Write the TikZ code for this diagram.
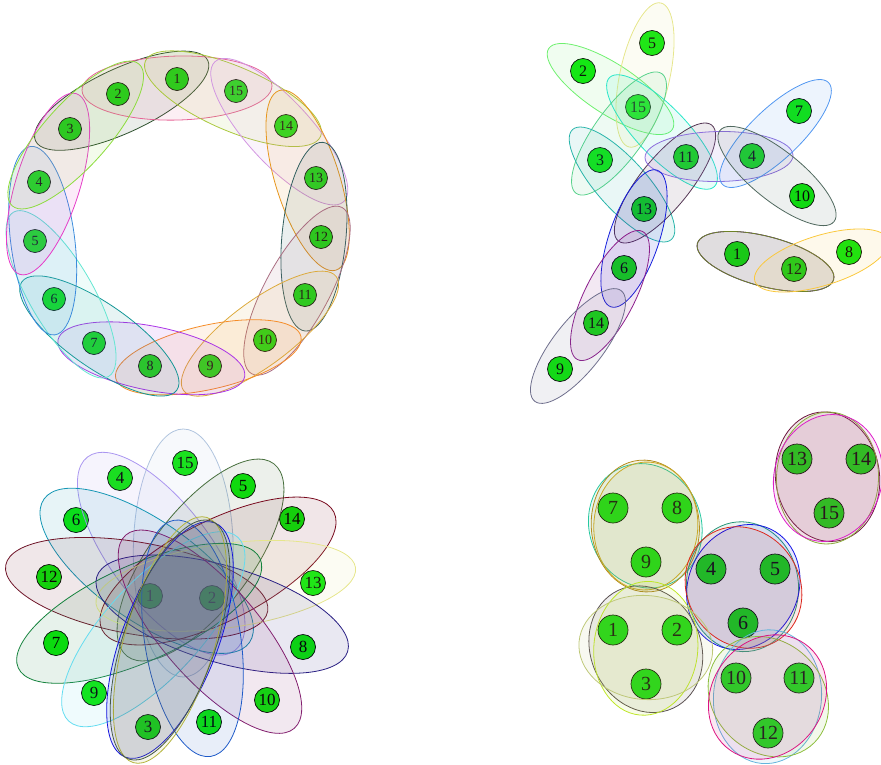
\documentclass[tikz,border=0pt]{standalone}
\usepackage{fontspec}
\setmainfont{Liberation Serif}
\usetikzlibrary{calc}
% node fill
\definecolor{nodegreen}{RGB}{10,230,10}
% ring colours
\definecolor{rDkgreen}{RGB}{45,80,45}
\definecolor{rPink}{RGB}{230,100,150}
\definecolor{rYgreen}{RGB}{170,200,60}
\definecolor{rLilac}{RGB}{210,150,225}
\definecolor{rOrangeB}{RGB}{230,150,30}
\definecolor{rSlate}{RGB}{50,95,95}
\definecolor{rMauve}{RGB}{170,110,130}
\definecolor{rGold}{RGB}{220,170,60}
\definecolor{rOrange}{RGB}{245,140,40}
\definecolor{rPurple}{RGB}{170,50,230}
\definecolor{rTeal}{RGB}{20,150,150}
\definecolor{rAqua}{RGB}{100,230,210}
\definecolor{rBlue}{RGB}{60,140,220}
\definecolor{rMagenta}{RGB}{230,60,200}
\definecolor{rLgreen}{RGB}{140,220,60}
% top-right colours
\definecolor{tLgreen}{RGB}{110,240,110}
\definecolor{tPyellow}{RGB}{230,230,140}
\definecolor{tTurq}{RGB}{40,230,200}
\definecolor{tMgreen}{RGB}{90,210,140}
\definecolor{tTeal}{RGB}{40,180,170}
\definecolor{tPlum}{RGB}{85,55,85}
\definecolor{tPurple}{RGB}{140,110,220}
\definecolor{tBlue}{RGB}{80,150,240}
\definecolor{tGrayg}{RGB}{80,105,95}
\definecolor{tBlueD}{RGB}{20,30,220}
\definecolor{tPurpleD}{RGB}{140,30,140}
\definecolor{tGray}{RGB}{110,110,140}
\definecolor{tDpurple}{RGB}{80,20,140}
\definecolor{tOlive}{RGB}{110,130,40}
\definecolor{tGold}{RGB}{250,200,60}
% bottom-left colours
\definecolor{fSteel}{RGB}{176,196,222}
\definecolor{fLav}{RGB}{170,150,240}
\definecolor{fTealb}{RGB}{20,150,180}
\definecolor{fDolive}{RGB}{70,110,60}
\definecolor{fDred}{RGB}{120,10,30}
\definecolor{fMaroon}{RGB}{110,20,40}
\definecolor{fPyellow}{RGB}{230,230,140}
\definecolor{fGreen}{RGB}{20,130,60}
\definecolor{fNavy}{RGB}{40,30,130}
\definecolor{fCyan}{RGB}{100,220,240}
\definecolor{fPurple}{RGB}{130,30,110}
\definecolor{fBlue}{RGB}{30,90,200}
\definecolor{fDblue}{RGB}{20,20,220}
\definecolor{fOlivey}{RGB}{180,180,60}
\definecolor{fSlate}{RGB}{70,90,70}
% bottom-right colours
\definecolor{gMaroon}{RGB}{110,20,60}
\definecolor{gOlive}{RGB}{140,170,60}
\definecolor{gMagenta}{RGB}{220,30,200}
\definecolor{gTeal}{RGB}{40,200,160}
\definecolor{gDgold}{RGB}{180,140,30}
\definecolor{gGold}{RGB}{200,170,40}
\definecolor{gTgreen}{RGB}{40,150,120}
\definecolor{gBlue}{RGB}{20,20,230}
\definecolor{gRed}{RGB}{220,40,30}
\definecolor{gDgray}{RGB}{90,80,80}
\definecolor{gYgreen}{RGB}{190,230,40}
\definecolor{gLolive}{RGB}{190,200,120}
\definecolor{gLblue}{RGB}{100,180,220}
\definecolor{gYgreenB}{RGB}{140,190,60}
\definecolor{gMagentaB}{RGB}{220,20,130}

\tikzset{
  vtx/.style={circle, draw=black, line width=0.7pt, fill=nodegreen, inner sep=0pt, text=black},
  va/.style={vtx, minimum size=23pt, font=\fontsize{14}{14}\selectfont},
  vb/.style={vtx, minimum size=25pt, font=\fontsize{16}{16}\selectfont},
  vc/.style={vtx, minimum size=25pt, font=\fontsize{17}{17}\selectfont},
  vd/.style={vtx, minimum size=30pt, font=\fontsize{20}{20}\selectfont},
  hedge/.style={draw=#1, fill=#1, fill opacity=0.1, line width=0.8pt},
}

% ellipse round three consecutive ring nodes
\newcommand\ringedge[4]{%
  \path[hedge=#4] let \p1=(#1), \p2=(#3), \p3=(#2),
    \p4=($(\p1)!.5!(\p2)$), \p5=($(\p4)!.33!(\p3)$),
    \n1={atan2(\y2-\y1,\x2-\x1)}, \n2={veclen(\x2-\x1,\y2-\y1)/2+36pt}
    in (\p5) ellipse[x radius=\n2, y radius=32pt, rotate=\n1];}
% ellipse round two nodes
\newcommand\pairedge[3]{%
  \path[hedge=#3] let \p1=(#1), \p2=(#2),
    \n1={atan2(\y2-\y1,\x2-\x1)}, \n2={veclen(\x2-\x1,\y2-\y1)/2+41pt}
    in ($(\p1)!.5!(\p2)$) ellipse[x radius=\n2, y radius=25pt, rotate=\n1];}
% free ellipse: centre, x radius, y radius, rotation, colour
\newcommand\freeedge[5]{%
  \path[hedge=#5] (#1) ellipse[x radius=#2pt, y radius=#3pt, rotate=#4];}

\begin{document}
\begin{tikzpicture}[x=1pt, y=-1pt]
\useasboundingbox (0,0) rectangle (881,764);

% ---------------- top left: ring ----------------
\node[va] (a1)  at (177,79)  {1};
\node[va] (a15) at (236,91)  {15};
\node[va] (a14) at (286,126) {14};
\node[va] (a13) at (316,178) {13};
\node[va] (a12) at (321,237) {12};
\node[va] (a11) at (305,295) {11};
\node[va] (a10) at (265,340) {10};
\node[va] (a9)  at (210,366) {9};
\node[va] (a8)  at (150,366) {8};
\node[va] (a7)  at (94,343)  {7};
\node[va] (a6)  at (54,299)  {6};
\node[va] (a5)  at (35,241)  {5};
\node[va] (a4)  at (39,182)  {4};
\node[va] (a3)  at (70,129)  {3};
\node[va] (a2)  at (118,94)  {2};

\ringedge{a3}{a2}{a1}{rDkgreen}
\ringedge{a2}{a1}{a15}{rPink}
\ringedge{a1}{a15}{a14}{rYgreen}
\ringedge{a15}{a14}{a13}{rLilac}
\ringedge{a14}{a13}{a12}{rOrangeB}
\ringedge{a13}{a12}{a11}{rSlate}
\ringedge{a12}{a11}{a10}{rMauve}
\ringedge{a11}{a10}{a9}{rGold}
\ringedge{a10}{a9}{a8}{rOrange}
\ringedge{a9}{a8}{a7}{rPurple}
\ringedge{a8}{a7}{a6}{rTeal}
\ringedge{a7}{a6}{a5}{rAqua}
\ringedge{a6}{a5}{a4}{rBlue}
\ringedge{a5}{a4}{a3}{rMagenta}
\ringedge{a4}{a3}{a2}{rLgreen}

% ---------------- top right: pairs ----------------
\node[vb] (b5)  at (652,43)  {5};
\node[vb] (b2)  at (583,71)  {2};
\node[vb] (b15) at (638,107) {15};
\node[vb] (b7)  at (799,111) {7};
\node[vb] (b3)  at (600,160) {3};
\node[vb] (b11) at (686,157) {11};
\node[vb] (b4)  at (752,156) {4};
\node[vb] (b10) at (802,196) {10};
\node[vb] (b13) at (644,209) {13};
\node[vb] (b1)  at (737,254) {1};
\node[vb] (b12) at (794,269) {12};
\node[vb] (b8)  at (849,252) {8};
\node[vb] (b6)  at (624,268) {6};
\node[vb] (b14) at (596,323) {14};
\node[vb] (b9)  at (560,369) {9};

\pairedge{b2}{b15}{tLgreen}
\pairedge{b5}{b15}{tPyellow}
\pairedge{b15}{b11}{tTurq}
\pairedge{b3}{b15}{tMgreen}
\pairedge{b3}{b13}{tTeal}
\pairedge{b13}{b11}{tPlum}
\pairedge{b11}{b4}{tPurple}
\pairedge{b4}{b7}{tBlue}
\pairedge{b4}{b10}{tGrayg}
\pairedge{b13}{b6}{tBlueD}
\pairedge{b6}{b14}{tPurpleD}
\pairedge{b14}{b9}{tGray}
\pairedge{b1}{b12}{tDpurple}
\pairedge{b1}{b12}{tOlive}
\pairedge{b12}{b8}{tGold}

% ---------------- bottom left: flower ----------------
\node[vc] (c15) at (185,463) {15};
\node[vc] (c4)  at (120,478) {4};
\node[vc] (c5)  at (243,486) {5};
\node[vc] (c6)  at (76,520)  {6};
\node[vc] (c14) at (292,519) {14};
\node[vc] (c12) at (49,577)  {12};
\node[vc] (c13) at (313,583) {13};
\node[vc] (c1)  at (150,596) {1};
\node[vc] (c2)  at (212,598) {2};
\node[vc] (c7)  at (56,643)  {7};
\node[vc] (c8)  at (303,647) {8};
\node[vc] (c9)  at (94,693)  {9};
\node[vc] (c10) at (267,700) {10};
\node[vc] (c3)  at (148,727) {3};
\node[vc] (c11) at (209,722) {11};

\freeedge{183.3,553}{124}{50}{90}{fSteel}
\freeedge{161.2,553.7}{121.6}{50}{-52.7}{fLav}
\freeedge{146.7,570.8}{125.3}{50}{-34.9}{fTealb}
\freeedge{200.5,560}{121}{50}{52.7}{fDolive}
\freeedge{218,571}{130}{50}{27}{fDred}
\freeedge{136.7,588.3}{133}{46}{-10}{fMaroon}
\freeedge{225.8,585.8}{131}{42}{8}{fPyellow}
\freeedge{139.2,613.3}{132.7}{48}{24.3}{fGreen}
\freeedge{222.2,614.2}{130.9}{48}{-16.5}{fNavy}
\freeedge{153.3,629.2}{124.9}{48}{47.4}{fCyan}
\freeedge{210,631.7}{128.2}{48}{-48.9}{fPurple}
\freeedge{192.5,638.3}{119.5}{48}{-81.2}{fBlue}
\freeedge{170,640}{125.4}{48}{69.1}{fDblue}
\freeedge{170,640}{128}{45}{73.3}{fOlivey}
\freeedge{170,640}{126}{46}{71}{fSlate}

% ---------------- bottom right: triples ----------------
\node[vd] (d13) at (797,459) {13};
\node[vd] (d14) at (861,459) {14};
\node[vd] (d15) at (829,513) {15};
\node[vd] (d7)  at (613,508) {7};
\node[vd] (d8)  at (677,508) {8};
\node[vd] (d9)  at (646,562) {9};
\node[vd] (d4)  at (711,569) {4};
\node[vd] (d5)  at (775,569) {5};
\node[vd] (d6)  at (743,623) {6};
\node[vd] (d1)  at (613,630) {1};
\node[vd] (d2)  at (677,630) {2};
\node[vd] (d3)  at (646,684) {3};
\node[vd] (d10) at (736,678) {10};
\node[vd] (d11) at (799,678) {11};
\node[vd] (d12) at (768,733) {12};

\freeedge{827.5,476.7}{52}{65}{8}{gMaroon}
\freeedge{827.5,478}{51}{66}{-2}{gOlive}
\freeedge{828,478}{54}{64}{-14}{gMagenta}

\freeedge{645.3,525.8}{56}{63}{20}{gTeal}
\freeedge{645.3,526}{54}{66}{5}{gDgold}
\freeedge{645.8,526}{52}{64}{-3}{gGold}

\freeedge{742.5,586.7}{56}{65}{5}{gTgreen}
\freeedge{743.3,587}{55}{64}{-25}{gBlue}
\freeedge{743.5,587.5}{56}{63}{35}{gRed}

\freeedge{645.8,649.2}{55}{65}{25}{gDgray}
\freeedge{645.8,648.3}{52}{67}{-5}{gYgreen}
\freeedge{645.8,647.5}{67}{52}{-5}{gLolive}

\freeedge{767.5,696.7}{54}{67}{-5}{gLblue}
\freeedge{768.3,696.7}{55}{65}{45}{gYgreenB}
\freeedge{767.5,697}{56}{65}{-35}{gMagentaB}
\end{tikzpicture}
\end{document}
